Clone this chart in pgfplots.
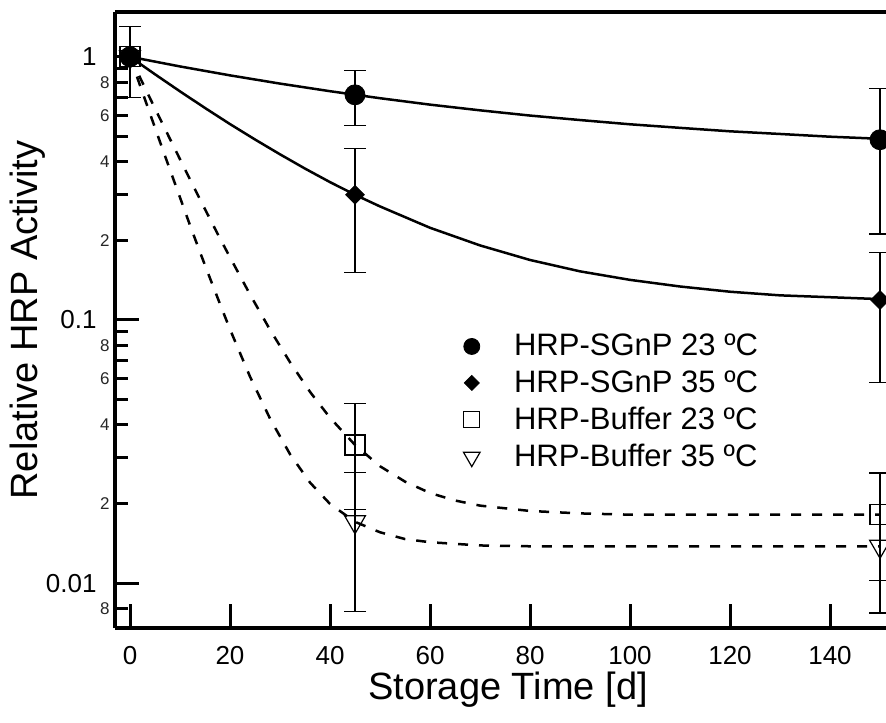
\documentclass[border=0pt]{standalone}
\usepackage{fontspec}
\setmainfont{Liberation Sans}
\usepackage{pgfplots}
\pgfplotsset{compat=1.18}
\begin{document}
\begin{tikzpicture}
\useasboundingbox (-57.5pt,-47pt) rectangle (385.5pt,314pt);
\clip (-57.5pt,-47pt) rectangle (385.5pt,314pt);
\begin{axis}[
  at={(0,0)}, anchor=south west,
  scale only axis, width=395pt, height=308pt,
  ymode=log, xmin=-3, xmax=155, ymin=0.00675, ymax=1.48,
  axis x line=box, axis y line=left,
  axis line style={line width=2pt, -},
  every outer y axis line/.append style={-},
  every outer x axis line/.append style={-},
  tick align=inside, xtick pos=left, ytick pos=left,
  tick style={line width=1.5pt, black},
  major tick length=12pt, minor tick length=6.5pt,
  xtick={0,20,40,60,80,100,120,140},
  /pgf/number format/assume math mode=true,
  tick label style={font=\fontsize{13}{15}\selectfont},
  xticklabel style={inner ysep=9pt},
  ytick={0.01,0.1,1}, yticklabels={0.01,0.1,1},
  yticklabel style={inner xsep=9pt},
  extra y ticks={0.008,0.02,0.04,0.06,0.08,0.2,0.4,0.6,0.8},
  extra y tick labels={8,2,4,6,8,2,4,6,8},
  extra y tick style={major tick length=6.5pt,
     yticklabel style={inner xsep=2.5pt, font=\fontsize{8.5}{10}\selectfont, text=black!85}},
  xlabel={Storage Time [d]}, ylabel={Relative HRP Activity},
  every axis x label/.style={at={(axis description cs:0.4975,-0.1153)}, anchor=base, font=\fontsize{19}{22}\selectfont},
  every axis y label/.style={at={(axis description cs:-0.0975,0.5)}, rotate=90, anchor=base, font=\fontsize{19}{22}\selectfont},
  legend style={draw=none, fill=none, at={(axis description cs:0.433,0.367)}, anchor=west,
     font=\fontsize{15.5}{18}\selectfont, row sep=1.9pt},
  legend cell align=left, reverse legend,
  legend image post style={/tikz/every mark/.append style={scale=0.8}},
  error bars/y dir=both, error bars/y explicit,
  error bars/error mark options={rotate=90, mark size=5.5pt, line width=0.6pt, black},
  error bars/error bar style={line width=0.6pt, black},
]
% fitted curves
\addplot[black, line width=1.25pt, forget plot, error bars/y dir=none] coordinates {
(0,1.0) (10,0.919) (20,0.850) (30,0.791) (40,0.740) (50,0.696) (60,0.658) (70,0.626)
(80,0.598) (90,0.575) (100,0.554) (110,0.537) (120,0.521) (130,0.509) (140,0.497) (150,0.488)};
\addplot[black, line width=1.25pt, forget plot, error bars/y dir=none] coordinates {
(0,1.0) (5,0.858) (10,0.739) (15,0.639) (20,0.555) (25,0.485) (30,0.426) (35,0.376)
(40,0.334) (45,0.299) (50,0.270) (60,0.224) (70,0.192) (80,0.169) (90,0.153)
(100,0.142) (110,0.134) (120,0.128) (130,0.124) (140,0.122) (150,0.120)};
\addplot[black, line width=1.25pt, dash pattern=on 5pt off 5.5pt, forget plot, error bars/y dir=none] coordinates {
(0,1.0) (2,0.834) (4,0.696) (6,0.582) (8,0.487) (10,0.408) (12,0.342) (14,0.287) (16,0.242)
(18,0.204) (20,0.173) (24,0.125) (28,0.0918) (32,0.0691) (36,0.0533) (40,0.0425) (45,0.0335)
(50,0.0278) (55,0.0243) (60,0.0220) (65,0.0206) (70,0.0197) (80,0.0188) (90,0.0184)
(100,0.0182) (150,0.0182)};
\addplot[black, line width=1.25pt, dash pattern=on 5pt off 5.5pt, forget plot, error bars/y dir=none] coordinates {
(0,1.0) (2,0.779) (4,0.608) (6,0.475) (8,0.372) (10,0.292) (12,0.229) (14,0.181) (16,0.144)
(18,0.115) (20,0.0921) (24,0.0609) (28,0.0422) (32,0.0309) (36,0.0241) (40,0.0200) (45,0.0171)
(50,0.0156) (55,0.0147) (60,0.0143) (70,0.0139) (80,0.0138) (150,0.0138)};
% data
\addplot[only marks, black, mark=triangle, mark size=6pt, mark options={rotate=180, line width=0.6pt, fill=none}]
 coordinates {(0,1.0) +- (0,0.3) (45,0.0171) +- (0,0.0093) (150,0.0138) +- (0,0.0061)};
\addlegendentry{\hspace*{15pt}HRP-Buffer 35 ºC}
\addplot[only marks, black, mark=square, mark size=5pt, mark options={line width=0.6pt, fill=none}]
 coordinates {(0,1.0) +- (0,0.3) (45,0.0335) +- (0,0.0145) (150,0.0182) +- (0,0.008)};
\addlegendentry{\hspace*{15pt}HRP-Buffer 23 ºC}
\addplot[only marks, black, mark=square*, mark size=3.3pt, mark options={rotate=45, fill=black}]
 coordinates {(0,1.0) +- (0,0.3) (45,0.299) +- (0,0.148) (150,0.119) +- (0,0.061)};
\addlegendentry{\hspace*{15pt}HRP-SGnP 35 ºC}
\addplot[only marks, black, mark=*, mark size=5pt, mark options={fill=black}]
 coordinates {(0,1.0) +- (0,0.3) (45,0.717) +- (0,0.168) (150,0.484) +- (0,0.272)};
\addlegendentry{\hspace*{15pt}HRP-SGnP 23 ºC}
\end{axis}
\end{tikzpicture}
\end{document}
